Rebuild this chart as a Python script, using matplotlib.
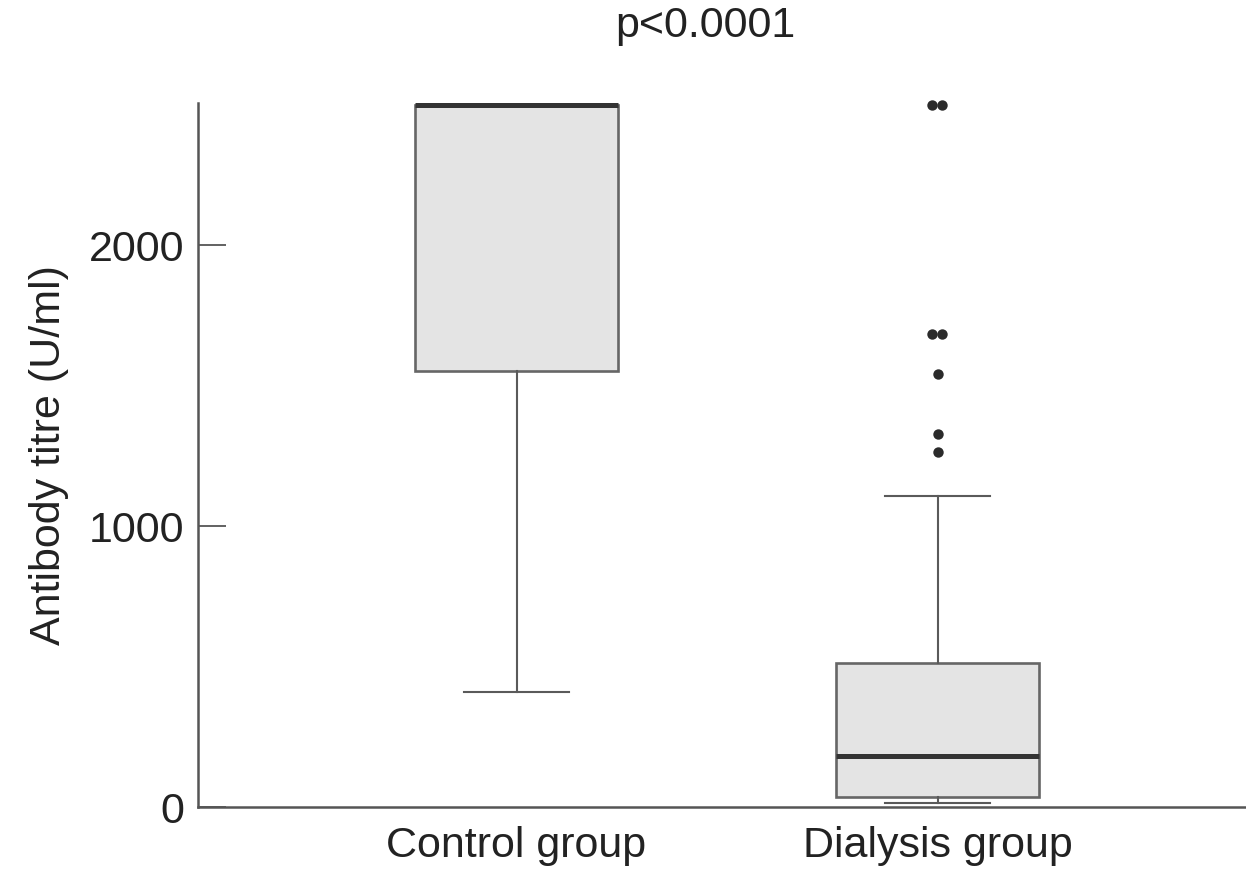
import matplotlib.pyplot as plt

plt.rcParams['font.family'] = ['Liberation Sans', 'DejaVu Sans']

# Box summary values (U/ml)
groups = ["Control group", "Dialysis group"]
q1 = [1552, 36]
median = [2500, 181]
q3 = [2500, 512]
whisker_low = [409, 14]
whisker_high = [2500, 1107]

# Outliers of the dialysis group
dialysis_outliers = [2500, 2500, 1683, 1683, 1541, 1327, 1263]
outlier_offsets = [-0.014, 0.010, -0.014, 0.010, 0.0, 0.0, 0.0]

p_text = "p<0.0001"

fig = plt.figure(figsize=(12.46, 8.77), dpi=100)
ax = fig.add_axes([0.159, 0.0798, 0.841, 0.8026])

stats = []
for i, name in enumerate(groups):
    stats.append({
        "label": name, "q1": q1[i], "med": median[i], "q3": q3[i],
        "whislo": whisker_low[i], "whishi": whisker_high[i], "fliers": [],
    })

ax.bxp(stats, positions=[1, 2], widths=0.482, showfliers=False,
       patch_artist=True,
       boxprops=dict(facecolor="#e4e4e4", edgecolor="#666666", linewidth=1.9),
       medianprops=dict(color="#333333", linewidth=3.6, solid_capstyle="butt"),
       whiskerprops=dict(color="#5a5a5a", linewidth=1.5),
       capprops=dict(color="#5a5a5a", linewidth=1.5),
       capwidths=0.25)

xs = [2 + d for d in outlier_offsets]
ax.plot(xs, dialysis_outliers, linestyle="none", marker="o", markersize=7.5,
        color="#2b2b2b", markeredgewidth=0, clip_on=False, zorder=5)

ax.set_xlim(0.244, 2.732)
ax.set_ylim(0, 2505)
ax.set_yticks([0, 1000, 2000])
ax.set_ylabel("Antibody titre (U/ml)", fontsize=31, color="#222222", labelpad=14)

for side in ["top", "right"]:
    ax.spines[side].set_visible(False)
for side in ["left", "bottom"]:
    ax.spines[side].set_color("#555555")
    ax.spines[side].set_linewidth(1.8)

ax.tick_params(axis="y", direction="in", length=20, width=1.3, color="#555555",
               labelsize=31, labelcolor="#222222", pad=10)
ax.tick_params(axis="x", length=0, labelsize=31, labelcolor="#222222", pad=14)

fig.text(0.566, 0.993, p_text, fontsize=31, color="#222222", ha="center", va="top")

fig.savefig("out.png", dpi=100)
